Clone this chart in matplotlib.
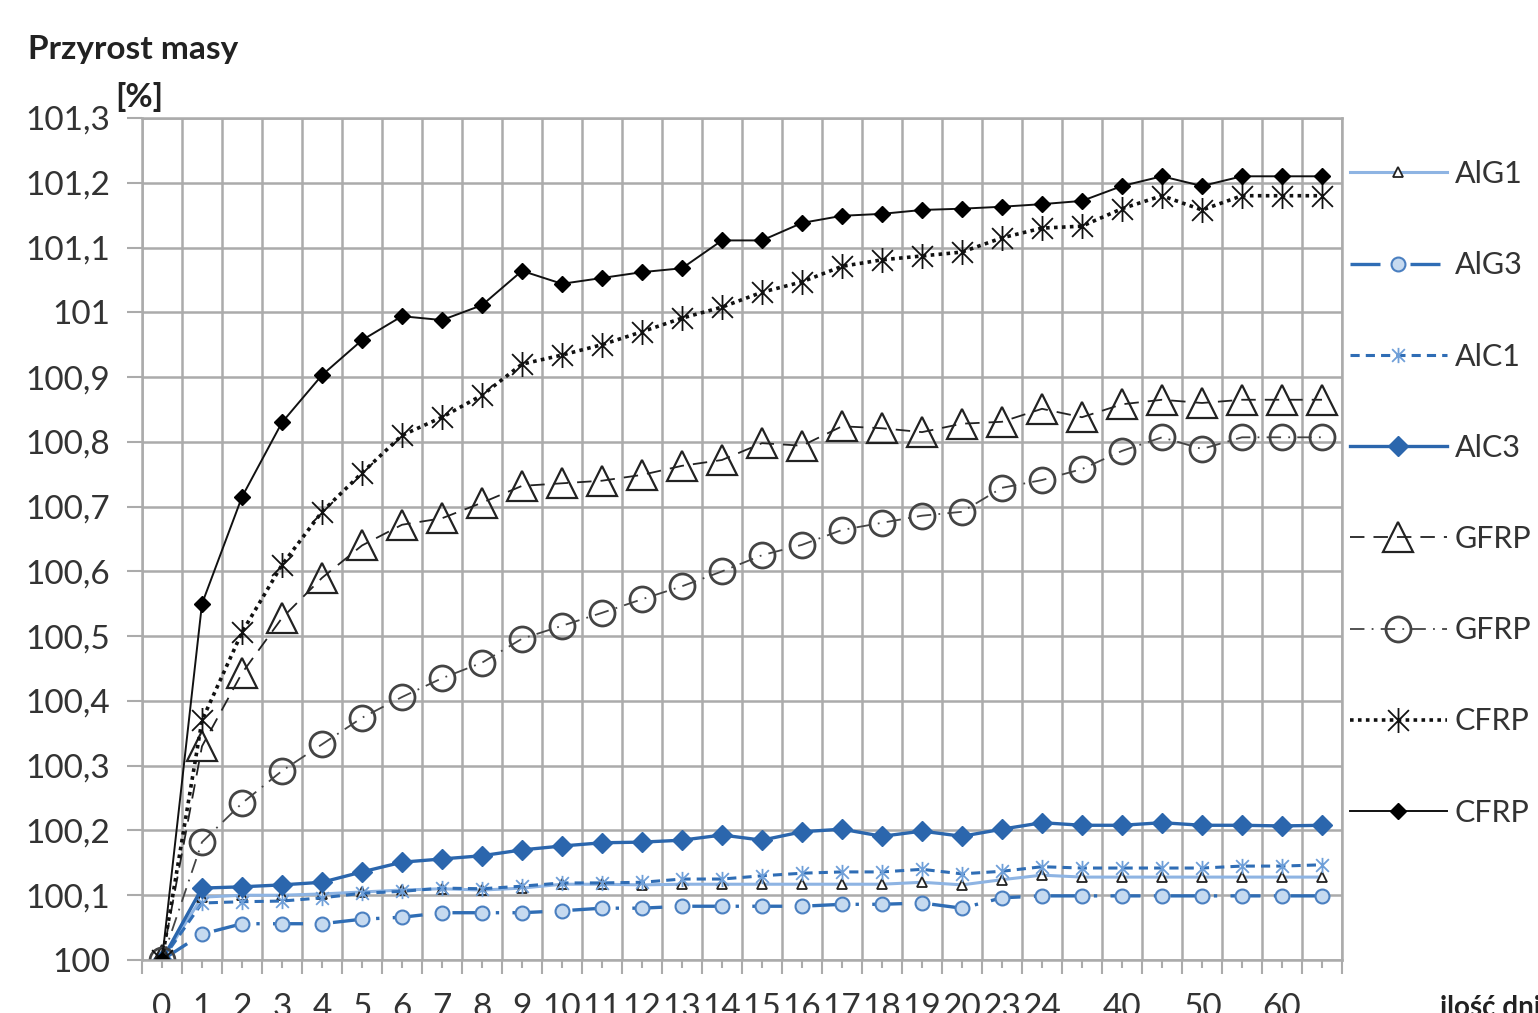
import matplotlib

matplotlib.use("Agg")

import matplotlib.pyplot as plt
from matplotlib.path import Path
from matplotlib.ticker import FixedLocator, FuncFormatter

plt.rcParams["font.family"] = ["Lato", "DejaVu Sans"]

day_labels = [str(d) for d in range(21)] + ["23", "24", "", "40", "", "50", "", "60", ""]

alg1 = [100.0, 100.097, 100.1, 100.1, 100.102, 100.105, 100.108, 100.11, 100.108, 100.111,
        100.117, 100.117, 100.116, 100.117, 100.117, 100.117, 100.117, 100.117, 100.117, 100.12,
        100.116, 100.124, 100.131, 100.128, 100.128, 100.128, 100.128, 100.128, 100.128, 100.128]
alg3 = [100.0, 100.04, 100.056, 100.056, 100.056, 100.063, 100.066, 100.073, 100.073, 100.073,
        100.076, 100.08, 100.08, 100.083, 100.083, 100.083, 100.083, 100.086, 100.086, 100.088,
        100.08, 100.096, 100.099, 100.099, 100.099, 100.099, 100.099, 100.099, 100.099, 100.099]
alc1 = [100.0, 100.088, 100.09, 100.091, 100.096, 100.103, 100.106, 100.111, 100.11, 100.114,
        100.119, 100.119, 100.12, 100.125, 100.125, 100.13, 100.134, 100.136, 100.136, 100.14,
        100.133, 100.137, 100.144, 100.142, 100.142, 100.142, 100.142, 100.145, 100.145, 100.147]
alc3 = [100.0, 100.111, 100.113, 100.116, 100.12, 100.136, 100.151, 100.156, 100.161, 100.17,
        100.176, 100.181, 100.182, 100.185, 100.193, 100.185, 100.198, 100.202, 100.191, 100.199,
        100.191, 100.202, 100.212, 100.208, 100.208, 100.212, 100.208, 100.208, 100.207, 100.208]
gfrp_tri = [100.0, 100.33, 100.443, 100.528, 100.59, 100.64, 100.672, 100.682, 100.706, 100.732,
            100.736, 100.74, 100.749, 100.763, 100.772, 100.798, 100.794, 100.824, 100.821, 100.815,
            100.828, 100.831, 100.851, 100.838, 100.858, 100.865, 100.86, 100.865, 100.865, 100.865]
gfrp_circ = [100.0, 100.182, 100.242, 100.292, 100.333, 100.374, 100.406, 100.435, 100.459, 100.496,
             100.516, 100.536, 100.557, 100.577, 100.6, 100.625, 100.641, 100.664, 100.675, 100.686,
             100.692, 100.729, 100.741, 100.758, 100.786, 100.807, 100.789, 100.807, 100.807, 100.807]
cfrp_ast = [100.0, 100.37, 100.506, 100.61, 100.692, 100.752, 100.81, 100.838, 100.872, 100.92,
            100.934, 100.95, 100.97, 100.991, 101.008, 101.031, 101.047, 101.071, 101.081, 101.087,
            101.093, 101.115, 101.13, 101.133, 101.16, 101.18, 101.158, 101.18, 101.18, 101.18]
cfrp_dia = [100.0, 100.55, 100.715, 100.83, 100.903, 100.957, 100.994, 100.988, 101.011, 101.064,
            101.044, 101.053, 101.062, 101.068, 101.111, 101.111, 101.138, 101.149, 101.152, 101.158,
            101.16, 101.163, 101.167, 101.172, 101.195, 101.21, 101.195, 101.21, 101.21, 101.21]

# asterisk: X with a vertical bar
star_marker = Path(
    [(-1, -1), (1, 1), (-1, 1), (1, -1), (0, -1.2), (0, 1.2)],
    [Path.MOVETO, Path.LINETO, Path.MOVETO, Path.LINETO, Path.MOVETO, Path.LINETO],
)

fig = plt.figure(figsize=(15.38, 10.13), dpi=100)
ax = fig.add_axes([142 / 1538, 1 - 960 / 1013, 1200 / 1538, 842 / 1013])

x = list(range(len(day_labels)))
grid_color = "#ababab"
text_color = "#333333"

ax.plot(x, alg1, color="#8eb4e3", linewidth=2.2, marker="^", markersize=7,
        markerfacecolor="white", markeredgecolor="#222222", markeredgewidth=1.3, label="AlG1")
ax.plot(x, alg3, color="#2f6db5", linewidth=2.4, dashes=(9, 4, 1, 4), marker="o", markersize=10,
        markerfacecolor="#c6daf0", markeredgecolor="#4a7fc0", markeredgewidth=1.5, label="AlG3")
ax.plot(x, alc1, color="#2f6db5", linewidth=2.2, linestyle=(0, (3, 2)), marker=star_marker,
        markersize=11, markeredgecolor="#6f9fd8", markeredgewidth=1.3, label="AlC1")
ax.plot(x, alc3, color="#2b66ad", linewidth=2.4, marker="D", markersize=10,
        markerfacecolor="#2b66ad", markeredgecolor="#2b66ad", label="AlC3")
ax.plot(x, gfrp_tri, color="#222222", linewidth=1.3, dashes=(8, 5), marker="^", markersize=22,
        markerfacecolor="none", markeredgecolor="#222222", markeredgewidth=1.6, label="GFRP")
ax.plot(x, gfrp_circ, color="#444444", linewidth=1.3, dashes=(8, 4, 1, 4), marker="o", markersize=18,
        markerfacecolor="none", markeredgecolor="#444444", markeredgewidth=2.0, label="GFRP")
ax.plot(x, cfrp_ast, color="#111111", linewidth=2.6, linestyle=(0, (1, 1.2)), marker=star_marker,
        markersize=18, markeredgecolor="#111111", markeredgewidth=1.3, label="CFRP")
ax.plot(x, cfrp_dia, color="#111111", linewidth=1.4, marker="D", markersize=8,
        markerfacecolor="black", markeredgecolor="black", label="CFRP")

ax.set_xlim(-0.5, len(x) - 0.5)
ax.set_ylim(100, 101.3)

ax.xaxis.set_major_locator(FixedLocator([i - 0.5 for i in range(len(x) + 1)]))
ax.xaxis.set_major_formatter(FuncFormatter(lambda v, p: ""))
ax.xaxis.set_minor_locator(FixedLocator(x))
ax.xaxis.set_minor_formatter(FuncFormatter(lambda v, p: day_labels[int(round(v))]))

y_ticks = [100 + i / 10 for i in range(14)]
ax.set_yticks(y_ticks)
ax.set_yticklabels([f"{v:.1f}".replace(".", ",").replace(",0", "") for v in y_ticks])

ax.tick_params(axis="x", which="major", length=10, width=1.5, color=grid_color)
ax.tick_params(axis="x", which="minor", length=6, width=1.5, color=grid_color,
               pad=18, labelsize=24, labelcolor=text_color)
ax.tick_params(axis="y", length=11, width=1.5, color=grid_color, pad=12,
               labelsize=24, labelcolor=text_color)

ax.grid(True, which="major", color=grid_color, linewidth=1.8)
ax.set_axisbelow(True)
for spine in ax.spines.values():
    spine.set_color(grid_color)
    spine.set_linewidth(1.8)

ax.legend(loc="upper left", bbox_to_anchor=(1350 / 1538, 1 - 160 / 1013),
          bbox_transform=fig.transFigure, frameon=False, fontsize=22,
          handlelength=3.17, handletextpad=0.26, labelspacing=2.07, borderaxespad=0,
          borderpad=0, labelcolor=text_color)

fig.text(28 / 1538, 1 - 50 / 1013, "Przyrost masy", ha="left", va="center",
         fontsize=24, fontweight="bold", color="#222222")
fig.text(115 / 1538, 1 - 97 / 1013, "[%]", ha="left", va="center",
         fontsize=24, fontweight="bold", color="#222222")
fig.text(1440 / 1538, 1 - 1008 / 1013, "ilość dni", ha="left", va="center",
         fontsize=20, fontweight="bold", color="#222222")

fig.savefig("out.png", dpi=100)
plt.close(fig)
